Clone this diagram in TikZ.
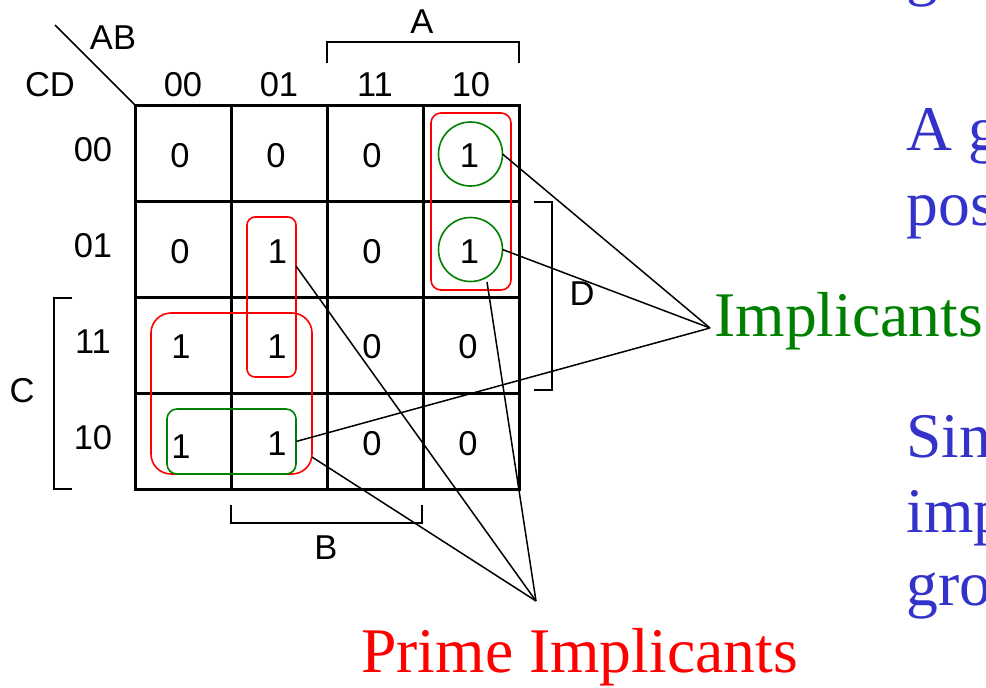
\documentclass[tikz,border=0pt]{standalone}
\usepackage{fontspec}
\setmainfont{Liberation Serif}
\setsansfont{Liberation Sans}
\definecolor{kblue}{RGB}{51,51,204}
\definecolor{kgreen}{RGB}{0,128,0}
\definecolor{kred}{RGB}{255,0,0}
\begin{document}
\begin{tikzpicture}[x=0.5pt,y=-0.5pt,
  gridline/.style={line width=1.5pt, line cap=rect},
  bracketline/.style={line width=1.2pt},
  lbl/.style={font=\fontsize{17.25}{20}\sffamily\selectfont, inner sep=0pt},
  redgrp/.style={draw=kred, line width=0.8pt, rectangle, inner sep=0pt, outer sep=0pt},
  greengrp/.style={draw=kgreen, line width=0.8pt, inner sep=0pt, outer sep=0pt},
  conn/.style={line width=0.75pt},
  bigtext/.style={font=\fontsize{31.8}{36}\selectfont, inner sep=0pt, anchor=base west},
]
\useasboundingbox (0,0) rectangle (986,687);

% grid
\foreach \i in {0,...,4} {
  \draw[gridline] (135+96*\i,105) -- (135+96*\i,489);
  \draw[gridline] (135,105+96*\i) -- (519,105+96*\i);
}
\draw[conn] (55,25) -- (135,105);

% brackets
\draw[bracketline] (327,63) -- (327,42) -- (519,42) -- (519,63);
\draw[bracketline] (534,202) -- (552,202) -- (552,390) -- (534,390);
\draw[bracketline] (72,298) -- (54,298) -- (54,489) -- (72,489);
\draw[bracketline] (231,505) -- (231,523) -- (422,523) -- (422,505);

% labels
\node[lbl] (lA) at (422,22) {A};
\node[lbl] (lB) at (326,548) {B};
\node[lbl] (lC) at (22,391) {C};
\node[lbl] (lD) at (582,294) {D};
\node[lbl] (lAB) at (113,38) {AB};
\node[lbl] (lCD) at (50,85) {CD};
\foreach \t [count=\i from 0] in {00,01,11,10} {
  \node[lbl] (col\i) at (183+96*\i,85) {\t};
  \node[lbl] (row\i) at (93,149.5+96.2*\i) {\t};
}

% values
\node[lbl] (v00) at (180,156) {0};
\node[lbl] (v01) at (276,156) {0};
\node[lbl] (v02) at (372,156) {0};
\node[lbl] (v03) at (469.5,156) {1};
\node[lbl] (v10) at (180,252) {0};
\node[lbl] (v11) at (277.5,252) {1};
\node[lbl] (v12) at (372,252) {0};
\node[lbl] (v13) at (469.5,252) {1};
\node[lbl] (v20) at (181,347) {1};
\node[lbl] (v21) at (277,347) {1};
\node[lbl] (v22) at (372,347) {0};
\node[lbl] (v23) at (468,347) {0};
\node[lbl] (v30) at (181,447) {1};
\node[lbl] (v31) at (277,444) {1};
\node[lbl] (v32) at (372,444) {0};
\node[lbl] (v33) at (468,444) {0};

% groups
\node[greengrp, circle, minimum size=32pt] (g1) at (470.5,154) {};
\node[greengrp, circle, minimum size=32pt] (g2) at (470.5,249.5) {};
\node[redgrp, rounded corners=5pt, minimum width=40pt, minimum height=88.5pt] (rA) at (471,201.5) {};
\node[redgrp, rounded corners=4pt, minimum width=24.5pt, minimum height=80pt] (rB) at (271.5,297) {};
\node[redgrp, rounded corners=10pt, minimum width=80.5pt, minimum height=80.5pt] (rC) at (231.5,393.5) {};
\node[greengrp, rectangle, rounded corners=5pt, minimum width=64.5pt, minimum height=32.5pt] (gR) at (231.5,441.5) {};

% texts
\node[bigtext, text=kgreen] (impltext) at (714,336) {Implicants};
\node[bigtext, text=kred] (primetext) at (361,672) {Prime Implicants};
\node[bigtext, text=kblue] (t0) at (906,-7) {g};
\node[bigtext, text=kblue] (t1) at (906,150) {A g};
\node[bigtext, text=kblue] (t2) at (906,225) {pos};
\node[bigtext, text=kblue] (t3) at (906,457) {Sin};
\node[bigtext, text=kblue] (t4) at (906,532) {imp};
\node[bigtext, text=kblue] (t5) at (906,605) {gro};

% connectors
\coordinate (impl) at (710,328);
\coordinate (prime) at (536,601);
\coordinate (pB) at (296,266);
\coordinate (pC) at (312,457);
\coordinate (pA) at (487,282);
\draw[conn] (g1.east) -- (impl);
\draw[conn] (g2.east) -- (impl);
\draw[conn] (gR.east) -- (impl);
\draw[conn] (pB) -- (prime);
\draw[conn] (pC) -- (prime);
\draw[conn] (pA) -- (prime);
\end{tikzpicture}
\end{document}
